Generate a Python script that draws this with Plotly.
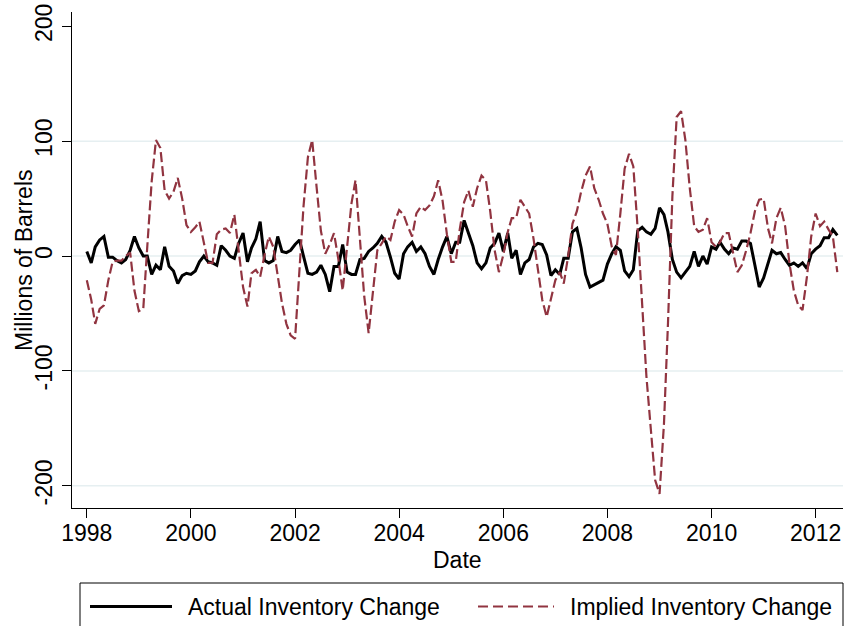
import pandas as pd
import plotly.graph_objects as go

# Monthly data, Jan 1998 - Jun 2012 (millions of barrels)
start_month = "1998-01-01"
n_months = 174

actual_change = [
    4, -6, 8, 14, 17, -1, -1, -4, -6, -3, 5, 17,
    7, 0, 0, -16, -8, -12, 8, -9, -13, -24, -17, -15,
    -16, -13, -5, 0, -5, -6, -8, 9, 5, 0, -2, 11,
    20, -5, 7, 15, 30, -4, -6, -4, 17, 4, 3, 5,
    10, 14, 0, -15, -16, -14, -8, -16, -31, -9, -9, 10,
    -14, -16, -16, -3, -2, 4, 7, 11, 17, 12, -1, -15,
    -20, 2, 8, 12, 4, 8, 2, -9, -16, -3, 8, 17,
    2, 12, 12, 31, 20, 9, -6, -11, -6, 7, 11, 20,
    4, 20, -2, 5, -16, -6, -3, 8, 11, 10, 1, -17,
    -12, -16, -2, -2, 21, 24, 7, -16, -27, -25, -23, -21,
    -7, 2, 8, 5, -13, -18, -12, 22, 25, 21, 19, 24,
    42, 36, 21, -3, -14, -19, -14, -9, 4, -9, 0, -7,
    8, 6, 12, 6, 2, 7, 6, 13, 13, 11, -8, -27,
    -19, -6, 5, 2, 3, -3, -8, -6, -9, -6, -11, 2,
    6, 9, 16, 16, 23, 18,
]

implied_change = [
    -21, -38, -59, -46, -43, -21, -5, -4, -4, 0, 3, -30,
    -48, -46, 8, 65, 101, 94, 57, 50, 56, 68, 50, 27,
    21, 25, 30, 12, -6, -6, 19, 23, 24, 20, 36, 5,
    -27, -44, -15, -12, -18, 1, 17, 8, -15, -41, -59, -69,
    -72, -12, 43, 86, 101, 60, 22, 2, 10, 20, -3, -30,
    8, 46, 66, 17, -35, -67, -32, 5, 11, 17, 14, 30,
    40, 36, 26, 17, 37, 43, 40, 44, 52, 66, 48, 19,
    -5, -5, 23, 47, 57, 43, 59, 70, 66, 39, 5, -14,
    1, 21, 33, 33, 49, 43, 37, 15, -12, -38, -53, -38,
    -21, -14, -24, 0, 28, 39, 56, 70, 78, 59, 49, 37,
    28, 8, 1, 37, 76, 89, 78, 23, -41, -105, -151, -195,
    -207, -146, -59, 52, 121, 126, 101, 59, 26, 21, 23, 33,
    12, 8, 12, 20, 20, 3, -14, -8, 5, 20, 39, 49,
    50, 24, 11, 33, 42, 26, -6, -30, -43, -47, -18, 17,
    37, 26, 30, 23, 17, -14,
]

x_tick_years = [1998, 2000, 2002, 2004, 2006, 2008, 2010, 2012]
y_tick_vals = [-200, -100, 0, 100, 200]
y_grid_vals = [-200, -100, 0, 100]

series_names = ["Actual Inventory Change", "Implied Inventory Change"]

dates = pd.date_range(start_month, periods=n_months, freq="MS")

BLACK = "#000000"
RED = "#913440"
GRID = "#E6EFF1"
FONT = "Liberation Sans, Arial, Helvetica, sans-serif"
FS = 23

W, H = 844, 626
ML, MR, MT, MB = 72, 1, 12, 118
PW, PH = W - ML - MR, H - MT - MB


def px(X):
    return (X - ML) / PW


def py(Y):
    return (H - MB - Y) / PH


fig = go.Figure()
fig.add_trace(go.Scatter(x=dates, y=actual_change, mode="lines",
                         name=series_names[0],
                         line=dict(color=BLACK, width=3), showlegend=False))
fig.add_trace(go.Scatter(x=dates, y=implied_change, mode="lines",
                         name=series_names[1],
                         line=dict(color=RED, width=2.2, dash="10px,4px"),
                         showlegend=False))

shapes = []
for v in y_grid_vals:
    shapes.append(dict(type="line", xref="paper", yref="y", x0=0, x1=1, y0=v, y1=v,
                       line=dict(color=GRID, width=1.5), layer="below"))

# legend box
shapes.append(dict(type="rect", xref="paper", yref="paper",
                   x0=px(80), x1=px(843), y0=py(583), y1=py(630),
                   line=dict(color="#000000", width=1), fillcolor="rgba(0,0,0,0)"))
ly = py(606.5)
shapes.append(dict(type="line", xref="paper", yref="paper", x0=px(90), x1=px(172),
                   y0=ly, y1=ly, line=dict(color=BLACK, width=3)))
shapes.append(dict(type="line", xref="paper", yref="paper", x0=px(478), x1=px(554),
                   y0=ly, y1=ly, line=dict(color=RED, width=2, dash="10px,5px")))

annotations = [
    dict(text=series_names[0], xref="paper", yref="paper", x=px(186), y=ly,
         xanchor="left", yanchor="middle", showarrow=False,
         font=dict(family=FONT, size=FS, color="#000")),
    dict(text=series_names[1], xref="paper", yref="paper", x=px(568), y=ly,
         xanchor="left", yanchor="middle", showarrow=False,
         font=dict(family=FONT, size=FS, color="#000")),
    dict(text="Date", xref="paper", yref="paper", x=0.5, y=py(560),
         xanchor="center", yanchor="middle", showarrow=False,
         font=dict(family=FONT, size=FS, color="#000")),
    dict(text="Millions of Barrels", xref="paper", yref="paper", x=px(24), y=0.5,
         xanchor="center", yanchor="middle", textangle=-90, showarrow=False,
         font=dict(family=FONT, size=FS, color="#000")),
]

fig.update_layout(
    width=W, height=H,
    margin=dict(l=ML, r=MR, t=MT, b=MB),
    paper_bgcolor="white", plot_bgcolor="white",
    font=dict(family=FONT, size=FS, color="#000"),
    shapes=shapes, annotations=annotations,
    showlegend=False,
)

fig.update_xaxes(
    type="date",
    range=["1997-09-19", "2012-07-11"],
    tickvals=[f"{y}-01-01" for y in x_tick_years],
    ticktext=[str(y) for y in x_tick_years],
    ticks="outside", ticklen=9, tickwidth=1, tickcolor="#000",
    ticklabelstandoff=-5,
    showline=True, linecolor="#000", linewidth=1,
    showgrid=False, zeroline=False,
    tickfont=dict(family=FONT, size=FS, color="#000"),
)
fig.update_yaxes(
    range=[-219.3, 212.4],
    tickvals=y_tick_vals,
    ticktext=[str(v) for v in y_tick_vals],
    tickangle=-90,
    ticks="outside", ticklen=9, tickwidth=1, tickcolor="#000",
    ticklabelstandoff=1,
    showline=True, linecolor="#000", linewidth=1,
    showgrid=False, zeroline=False,
    tickfont=dict(family=FONT, size=FS, color="#000"),
)

fig.write_html(
    "out.html",
    config={"displayModeBar": False},
    post_script="document.body.style.margin='0';document.body.style.overflow='hidden';",
)
